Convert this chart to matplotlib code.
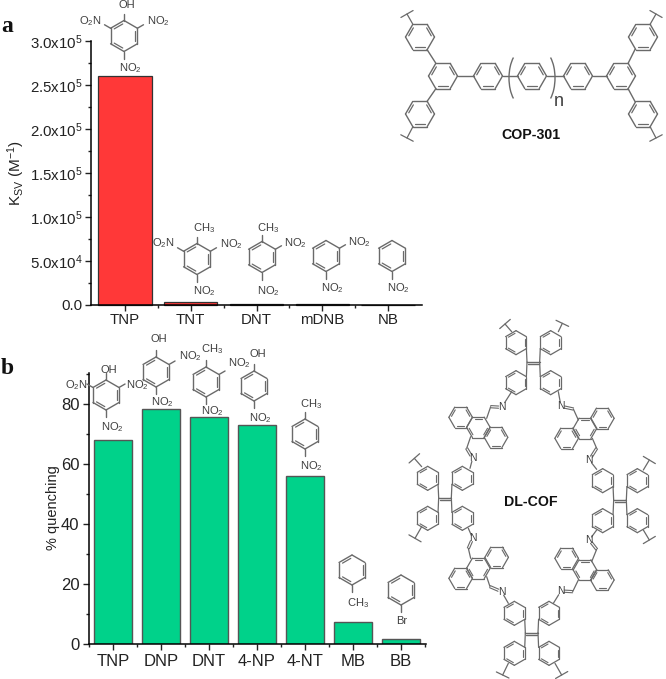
import numpy as np
import matplotlib
matplotlib.use('Agg')
import matplotlib.pyplot as plt
from matplotlib.patches import Arc
from matplotlib.ticker import MultipleLocator, FixedLocator, FixedFormatter

plt.rcParams['font.family'] = ['Liberation Sans', 'DejaVu Sans']
plt.rcParams['mathtext.fontset'] = 'custom'
plt.rcParams['mathtext.rm'] = 'Liberation Sans'
plt.rcParams['mathtext.it'] = 'Liberation Sans'
plt.rcParams['mathtext.default'] = 'regular'

# panel a
names_a = ['TNP', 'TNT', 'DNT', 'mDNB', 'NB']
ksv = [2.6e5, 3000, 1000, 1000, 150]
yticks_a = ['0.0', '5.0x10$^{4}$', '1.0x10$^{5}$', '1.5x10$^{5}$', '2.0x10$^{5}$', '2.5x10$^{5}$', '3.0x10$^{5}$']

# panel b
names_b = ['TNP', 'DNP', 'DNT', '4-NP', '4-NT', 'MB', 'BB']
quenching = [68, 78.3, 75.5, 72.9, 55.9, 7.4, 1.5]

W, H = 666, 679
GRAY = '#6a6a6a'

fig = plt.figure(figsize=(W / 100, H / 100), dpi=100)


def make_axes(left, right, top, bottom):
    return fig.add_axes([left / W, 1 - bottom / H, (right - left) / W, (bottom - top) / H])


def style(ax, minor_x, size, pad):
    ax.spines['top'].set_visible(False)
    ax.spines['right'].set_visible(False)
    ax.spines['left'].set_linewidth(1.1)
    ax.spines['bottom'].set_linewidth(1.1)
    ax.xaxis.set_minor_locator(FixedLocator(minor_x))
    ax.tick_params(which='major', length=4.5, width=1, labelsize=size, pad=pad, colors='#222222')
    ax.tick_params(which='minor', length=2.5, width=1, colors='#222222')


ax1 = make_axes(91, 422, 40.7, 305)
ax1.bar(range(len(names_a)), ksv, width=0.81, color='#ff3838', edgecolor='#333333', linewidth=0.9, clip_on=False)
ax1.set_xlim(-0.517, 4.517)
ax1.set_ylim(0, 3e5)
ax1.set_xticks(range(len(names_a)))
ax1.set_xticklabels(names_a)
ax1.yaxis.set_major_locator(FixedLocator([i * 5e4 for i in range(7)]))
ax1.yaxis.set_major_formatter(FixedFormatter(yticks_a))
ax1.yaxis.set_minor_locator(MultipleLocator(2.5e4))
style(ax1, np.arange(0.5, 4, 1), 10.8, 1.5)
ax1.set_ylabel('K$_{SV}$ (M$^{-1}$)', fontsize=11, color='#222222')
ax1.yaxis.set_label_coords((27 - 91) / 331, 0.5)

ax2 = make_axes(89, 426, 373, 644)
ax2.bar(range(len(names_b)), quenching, width=0.8, color='#00d28a', edgecolor='#555555', linewidth=1)
ax2.set_xlim(-0.5, 6.52)
ax2.set_ylim(0, 90.3)
ax2.set_xticks(range(len(names_b)))
ax2.set_xticklabels(names_b)
ax2.yaxis.set_major_locator(MultipleLocator(20))
ax2.yaxis.set_minor_locator(MultipleLocator(10))
style(ax2, np.arange(-0.5, 7, 1), 12, 2.5)
ax2.set_ylabel('% quenching', fontsize=10.5, color='#222222')
ax2.yaxis.set_label_coords((60 - 89) / 337, (644 - 508) / 271)

# overlay in pixel coords for the chemical drawings
ov = fig.add_axes([0, 0, 1, 1])
ov.set_xlim(0, W)
ov.set_ylim(H, 0)
ov.axis('off')
ov.patch.set_alpha(0)


def vertex(cx, cy, r, ang):
    a = np.radians(ang)
    return cx + r * np.cos(a), cy - r * np.sin(a)


def bond(x1, y1, x2, y2, lw=1.0):
    ov.plot([x1, x2], [y1, y2], color=GRAY, lw=lw, solid_capstyle='round')


def ring(cx, cy, r, rot=90, lw=1.0, start=0):
    for i in range(6):
        x1, y1 = vertex(cx, cy, r, rot + 60 * i)
        x2, y2 = vertex(cx, cy, r, rot + 60 * (i + 1))
        bond(x1, y1, x2, y2, lw)
        if (i + start) % 2 == 0:
            x1, y1 = vertex(cx, cy, r * 0.78, rot + 60 * i + 6)
            x2, y2 = vertex(cx, cy, r * 0.78, rot + 60 * (i + 1) - 6)
            bond(x1, y1, x2, y2, lw * 0.9)


def sub(cx, cy, r, ang, length=8):
    x1, y1 = vertex(cx, cy, r, ang)
    x2, y2 = vertex(cx, cy, r + length, ang)
    bond(x1, y1, x2, y2)


def cap(x1, y1, x2, y2):
    # bond going out of the structure with the little cross line at its end
    bond(x1, y1, x2, y2, 0.9)
    dx, dy = x2 - x1, y2 - y1
    n = np.hypot(dx, dy)
    px, py = -dy / n * 7, dx / n * 7
    bond(x2 - px, y2 - py, x2 + px, y2 + py, 0.9)


def label(x, y, s, size=8, color='#3f3f3f', **kw):
    ov.text(x, y, s, fontsize=size, ha='center', va='center', color=color, **kw)


NO2 = 'NO$_{2}$'
O2N = 'O$_{2}$N'
CH3 = 'CH$_{3}$'

# small molecules: centre, then (angle, text, text x, text y)
molecules = [
    (124, 36, 15.5, [(90, 'OH', 127, 5), (150, O2N, 90, 21), (30, NO2, 158, 21), (-90, NO2, 130, 68)]),
    (197, 259, 15.5, [(90, CH3, 204, 228), (150, O2N, 163, 243), (30, NO2, 231, 244), (-90, NO2, 204, 291)]),
    (262, 257, 15.5, [(90, CH3, 268, 228), (30, NO2, 295, 243), (-90, NO2, 268, 291)]),
    (326, 256, 15.5, [(30, NO2, 359, 242), (-90, NO2, 332, 288)]),
    (392, 256, 15.5, [(-90, NO2, 398, 288)]),
    (106, 395, 15, [(90, 'OH', 109, 370), (150, O2N, 76, 385), (30, NO2, 137, 385), (-90, NO2, 112, 427)]),
    (156, 372, 15, [(90, 'OH', 159, 339), (30, NO2, 190, 356), (-90, NO2, 162, 402)]),
    (206, 382, 15, [(90, CH3, 212, 349), (30, NO2, 239, 363), (-90, NO2, 212, 411)]),
    (254, 386, 15, [(90, 'OH', 258, 354), (-90, NO2, 260, 418)]),
    (305, 434, 15, [(90, CH3, 311, 404), (-90, NO2, 311, 466)]),
    (352, 570, 15, [(-90, CH3, 358, 603)]),
    (401, 590, 15, [(-90, 'Br', 402, 621)]),
]
for cx, cy, r, subs in molecules:
    ring(cx, cy, r)
    for ang, txt, tx, ty in subs:
        sub(cx, cy, r, ang, 7)
        label(tx, ty, txt)

# COP-301
cop_rings = [(443, 76), (488, 76), (532, 76), (578, 76), (621, 76), (420, 37), (420, 114), (643, 37), (643, 114)]
for cx, cy in cop_rings:
    ring(cx, cy, 14.5, rot=0)
for x1, x2 in [(457.5, 473.5), (502.5, 517.5), (546.5, 563.5), (592.5, 606.5)]:
    bond(x1, 76, x2, 76)
for x1, y1, x2, y2 in [(427, 49.5, 436, 63.5), (427, 101.5, 436, 88.5), (635, 49.5, 628, 63.5), (635, 101.5, 628, 88.5)]:
    bond(x1, y1, x2, y2)
cap(413, 24.5, 407, 14)
cap(413, 126.5, 407, 138)
cap(650, 24.5, 656, 14)
cap(650, 126.5, 656, 138)
ov.add_patch(Arc((523, 78), 28, 56, theta1=115, theta2=245, color=GRAY, lw=1.0))
ov.add_patch(Arc((541, 78), 28, 56, theta1=-65, theta2=65, color=GRAY, lw=1.0))
label(559, 101, 'n', size=13)
label(531, 135, 'COP-301', size=10.2, color='#111111', fontweight='bold')


def z(x, y):
    # positions below were measured on a crop at 3x starting at (370, 310)
    return 370 + x / 3, 310 + y / 3


# DL-COF: tetraphenylethene units (centre of C=C)
tpe = [(490, 158), (225, 565), (750, 572), (485, 970)]
for ex, ey in tpe:
    x1, y1 = z(ex - 19, ey - 2)
    x2, y2 = z(ex + 19, ey - 2)
    bond(x1, y1, x2, y2)
    bond(x1 + 1, y1 + 2.2, x2 - 1, y2 + 2.2)
    for dx, dy in [(-52, -60), (52, -60), (-52, 60), (52, 60)]:
        cx, cy = z(ex + dx, ey + dy)
        ring(cx, cy, 12, rot=90, lw=0.9)
        bx, by = vertex(cx, cy, 12, -30 if dx < 0 and dy < 0 else 210 if dy < 0 else 30 if dx < 0 else 150)
        bond(x1 if dx < 0 else x2, y1, bx, by, 0.9)

for x1, y1, x2, y2 in [(425, 65, 405, 42), (565, 65, 577, 40), (155, 470, 133, 445), (155, 650, 135, 685),
                       (820, 480, 838, 450), (820, 660, 838, 690), (415, 1060, 398, 1095), (555, 1060, 575, 1095)]:
    cap(*z(x1, y1), *z(x2, y2))

# DL-COF: anthracene linkers, three fused rings
anthracenes = [[(272, 322), (325, 352), (378, 382)], [(697, 325), (645, 355), (590, 385)],
               [(272, 805), (325, 775), (380, 742)], [(590, 745), (645, 780), (697, 810)]]
for rings in anthracenes:
    for i, (x, y) in enumerate(rings):
        cx, cy = z(x, y)
        ring(cx, cy, 11.8, rot=0, lw=0.9, start=i)

# DL-COF: imine links, ring carbon -> CH -> N -> phenyl
imines = [
    [(350, 325), (362, 290), (395, 292), (425, 245)],
    [(302, 380), (290, 415), (308, 445), (300, 475)],
    [(625, 330), (610, 297), (573, 289), (565, 245)],
    [(667, 385), (680, 415), (658, 450), (680, 478)],
    [(302, 745), (295, 715), (308, 685), (295, 655)],
    [(350, 800), (360, 830), (395, 845), (415, 880)],
    [(665, 755), (680, 718), (658, 690), (680, 660)],
    [(625, 810), (608, 845), (573, 843), (550, 880)],
]
for (ax_, ay), (bx_, by_), (nx, ny), (px_, py_) in imines:
    a = z(ax_, ay)
    b = z(bx_, by_)
    n = z(nx, ny)
    p = z(px_, py_)
    bond(*a, *b, 0.9)
    d = np.array(n) - np.array(b)
    end = np.array(b) + d * 0.72
    norm = np.array([-d[1], d[0]]) / np.hypot(*d) * 1.1
    bond(b[0] + norm[0], b[1] + norm[1], end[0] + norm[0], end[1] + norm[1], 0.8)
    bond(b[0] - norm[0], b[1] - norm[1], end[0] - norm[0], end[1] - norm[1], 0.8)
    d = np.array(p) - np.array(n)
    start = np.array(n) + d * 0.3
    bond(start[0], start[1], *p, 0.9)
    label(n[0], n[1], 'N', size=7.5)

label(*z(482, 575), 'DL-COF', size=10.2, color='#111111', fontweight='bold')

# panel letters
for x, y, s in [(7, 27, 'a'), (7.5, 369, 'b')]:
    ov.text(x, y, s, fontsize=17, fontweight='bold', family='Liberation Serif', ha='center', va='center', color='#111111')

fig.savefig('out.png', dpi=100)
